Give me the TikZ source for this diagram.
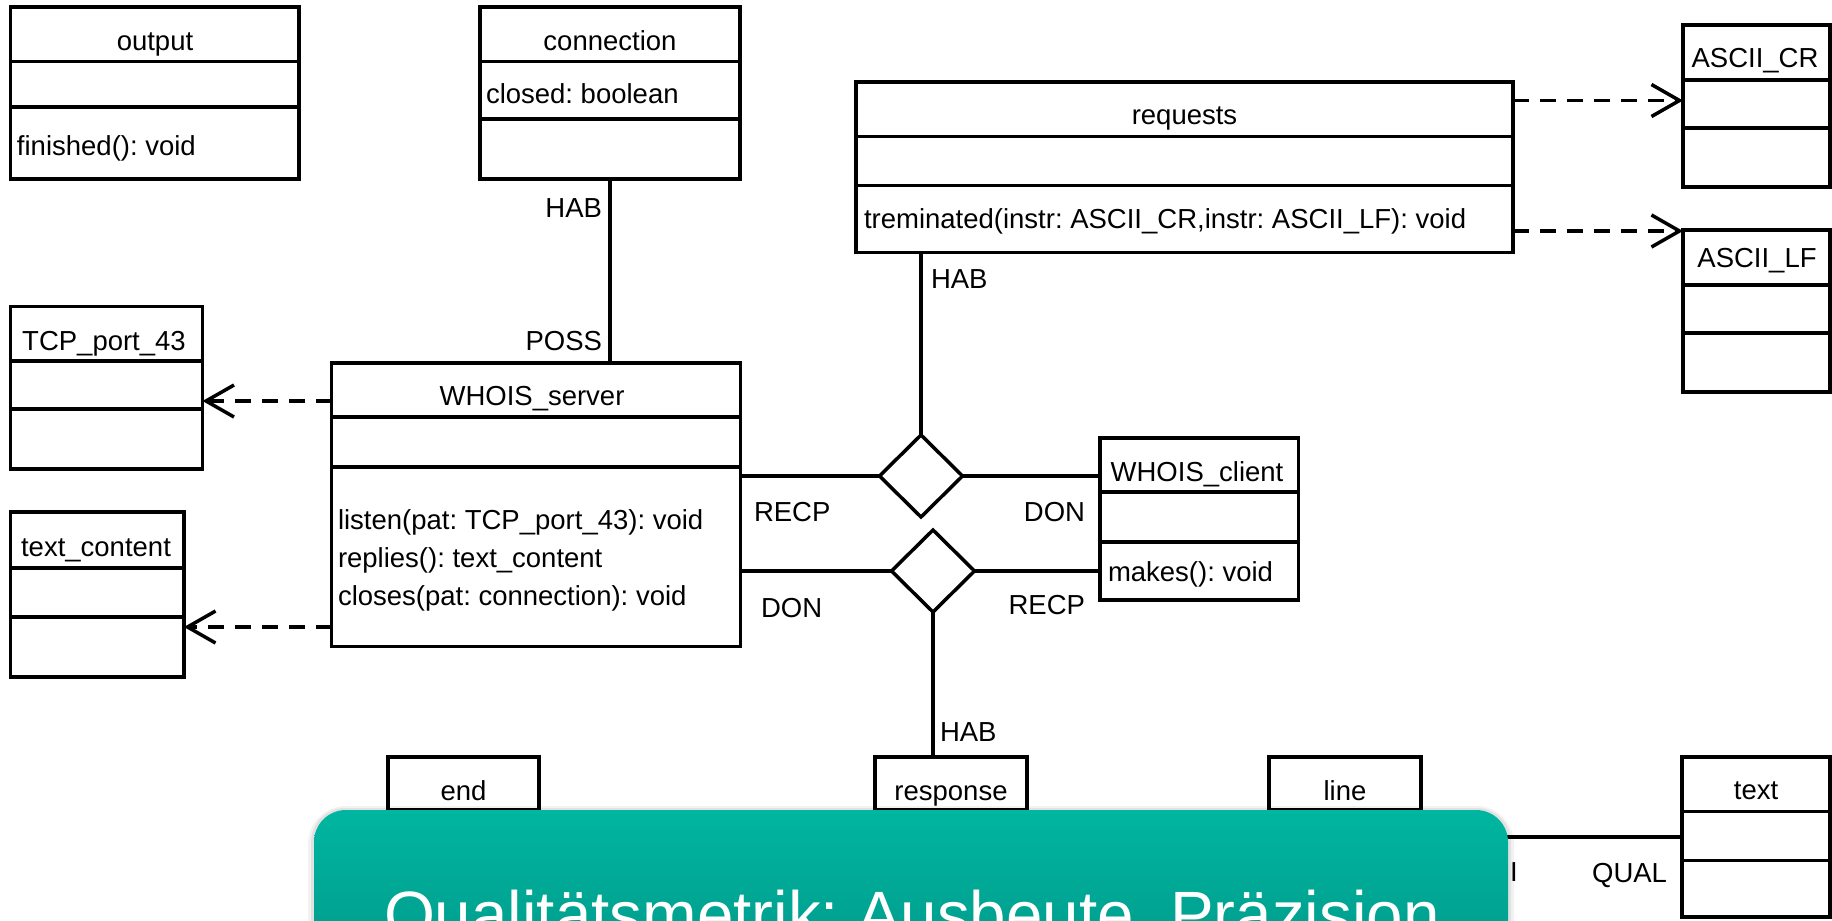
\documentclass[tikz,border=0pt]{standalone}
\usepackage{fontspec}
\setmainfont{Liberation Sans}
\usetikzlibrary{arrows.meta,fit,shapes.geometric}
\frenchspacing

\definecolor{bannertop}{RGB}{0,182,161}
\definecolor{bannerbottom}{RGB}{0,150,134}

% UML class box: name, x1, y1, x2, y2, first divider, second divider
\newcommand\umlclass[7]{%
  \node[cls, fit={(#2,#3) (#4,#5)}] (#1) {};
  \draw[divider] (#1.west |- 0,#6) -- (#1.east |- 0,#6);
  \draw[divider] (#1.west |- 0,#7) -- (#1.east |- 0,#7);
}

\begin{document}
\begin{tikzpicture}[x=0.5pt,y=-0.5pt,
  every node/.style={font=\fontsize{13.75pt}{16pt}\selectfont, inner sep=0pt, outer sep=0pt},
  cls/.style={draw, line width=1.9pt, fill=white, inner sep=0pt},
  divider/.style={line width=1.75pt},
  link/.style={line width=1.7pt},
  dep/.style={line width=1.75pt, dash pattern=on 8pt off 5.5pt,
    -{Straight Barb[length=14pt,width=16pt]}},
  ttl/.style={anchor=base},
  mem/.style={anchor=base west},
  rolel/.style={anchor=base west},
  roler/.style={anchor=base east},
  rel/.style={draw, diamond, line width=1.75pt, inner sep=0pt,
    minimum width=41.5pt, minimum height=41pt, fill=white},
]
\useasboundingbox (0,0) rectangle (1832,921);
\clip (0,0) rectangle (1832,921);

% ---- classes ----
\umlclass{output}{10.5}{7}{299}{179}{61.5}{107}
\umlclass{connection}{480}{7}{740}{179}{61.5}{119}
\umlclass{requests}{856}{82}{1513}{252.5}{136.5}{185.5}
\umlclass{asciicr}{1683}{25}{1830}{187}{80}{128}
\umlclass{asciilf}{1683}{230}{1830}{392}{285}{333}
\umlclass{tcp}{10.5}{306.5}{202.5}{469}{361}{409}
\umlclass{textc}{10.5}{512}{184}{677}{568}{617}
\umlclass{server}{331.5}{363}{740.5}{646.5}{417}{467}
\umlclass{client}{1100}{438}{1298.5}{600}{492}{542}
\umlclass{endbox}{388}{757}{539}{917}{810}{860}
\umlclass{response}{875}{757}{1027}{917}{810}{860}
\umlclass{linebox}{1269}{757}{1421}{917}{810}{860}
\umlclass{textbox}{1682}{757}{1830}{917}{811.5}{860.5}

% ---- class titles and members ----
\node[ttl] (output-t) at (155,50) {output};
\node[mem] (output-m) at (17,155) {finished(): void};
\node[ttl] (connection-t) at (610,50) {connection};
\node[mem] (connection-a) at (486,103) {closed: boolean};
\node[ttl] (requests-t) at (1184.5,124) {requests};
\node[mem] (requests-m) at (864,228) {treminated(instr: ASCII\_CR,instr: ASCII\_LF): void};
\node[ttl] (asciicr-t) at (1755,68) {ASCII\_CR};
\node[ttl] (asciilf-t) at (1757,267) {ASCII\_LF};
\node[ttl] (tcp-t) at (104,350) {TCP\_port\_43};
\node[ttl] (textc-t) at (96,556) {text\_content};
\node[ttl] (server-t) at (532,405) {WHOIS\_server};
\node[mem] (server-m1) at (338,529) {listen(pat: TCP\_port\_43): void};
\node[mem] (server-m2) at (338,567) {replies(): text\_content};
\node[mem] (server-m3) at (338,605) {closes(pat: connection): void};
\node[ttl] (client-t) at (1197,481) {WHOIS\_client};
\node[mem] (client-m) at (1108,581) {makes(): void};
\node[ttl] (endbox-t) at (463.5,800) {end};
\node[ttl] (response-t) at (951,800) {response};
\node[ttl] (linebox-t) at (1345,800) {line};
\node[ttl] (textbox-t) at (1756,799) {text};

% ---- relation diamonds ----
\node[rel] (r1) at (921,476) {};
\node[rel] (r2) at (933,571) {};

% ---- associations ----
\draw[link] (connection.south) -- (connection.south |- server.north);
\draw[link] (r1.north) -- (r1.north |- requests.south);
\draw[link] (server.east |- r1) -- (r1.west);
\draw[link] (r1.east) -- (client.west |- r1);
\draw[link] (server.east |- r2) -- (r2.west);
\draw[link] (r2.east) -- (client.west |- r2);
\draw[link] (r2.south) -- (r2.south |- response.north);
\coordinate (qual-end) at (1440,837);
\draw[link] (qual-end) -- (textbox.west |- qual-end);

% ---- dependencies ----
\draw[dep] (server.west |- 0,401) -- (tcp.east |- 0,401);
\draw[dep] (server.west |- 0,627) -- (textc.east |- 0,627);
\draw[dep] (requests.east |- 0,100.5) -- (asciicr.west |- 0,100.5);
\draw[dep] (requests.east |- 0,231) -- (asciilf.west |- 0,231);

% ---- role labels ----
\node[roler] (hab1) at (602,217) {HAB};
\node[roler] (poss1) at (602,350) {POSS};
\node[rolel] (hab2) at (931,288) {HAB};
\node[rolel] (recp1) at (754,521) {RECP};
\node[roler] (don1) at (1085,521) {DON};
\node[rolel] (don2) at (761,617) {DON};
\node[roler] (recp2) at (1085,614) {RECP};
\node[rolel] (hab3) at (940,741) {HAB};
\node[roler] (qual1) at (1667,882) {QUAL};
\node[rolel] (qual0) at (1510,881) {I};

% ---- banner ----
\fill[black, opacity=0.05, rounded corners=19pt] (308,806) rectangle (1514,1000);
\fill[black, opacity=0.07, rounded corners=17pt] (311,808) rectangle (1511,1000);
\node[fit={(314,810) (1508,990)}, inner sep=0pt, rounded corners=16pt,
  top color=bannertop, bottom color=bannerbottom] (banner) {};
\node[anchor=base west, text=white, font=\fontsize{32.75pt}{38pt}\selectfont]
  (banner-text) at (384,937) {Qualitätsmetrik: Ausbeute, Präzision};
\end{tikzpicture}
\end{document}
